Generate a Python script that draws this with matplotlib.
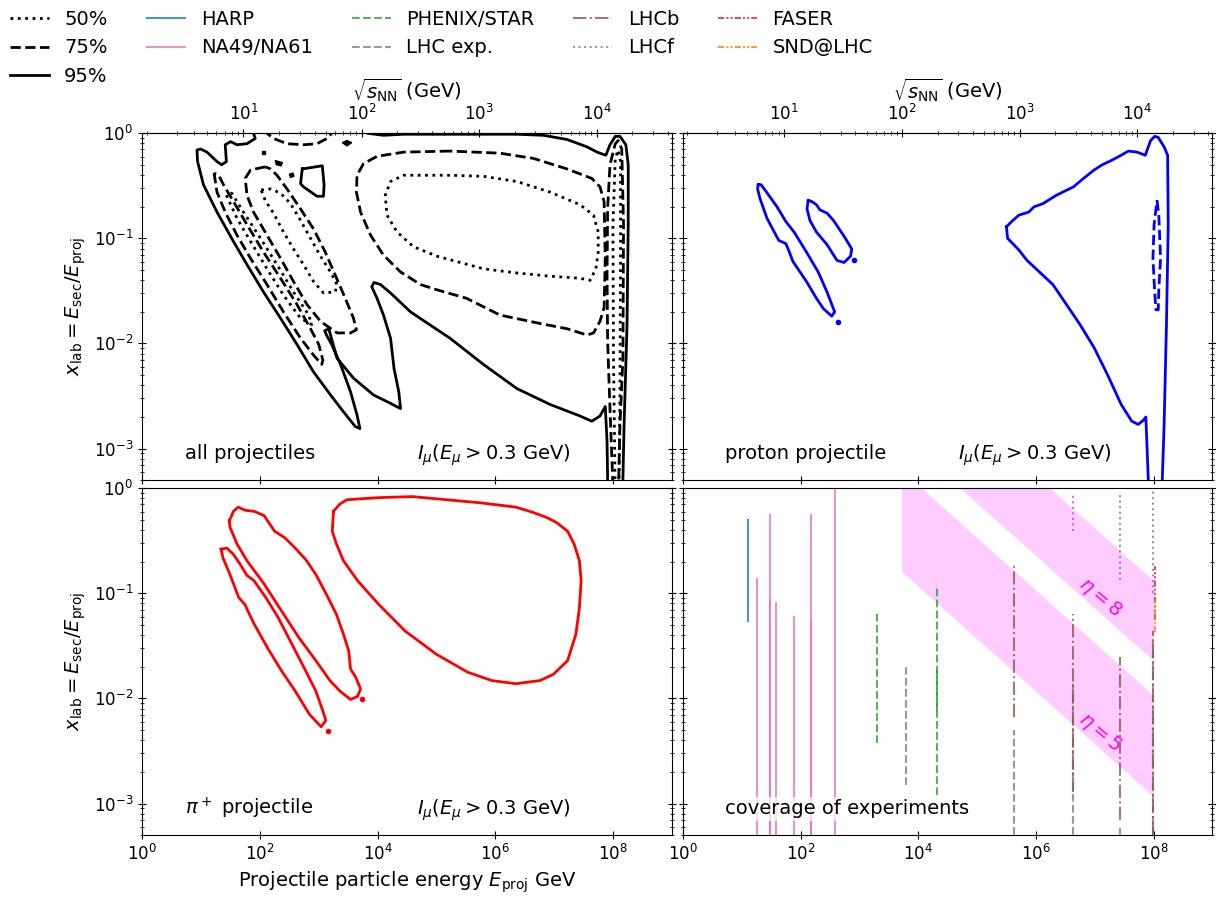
import numpy as np
import matplotlib
matplotlib.use("Agg")
import matplotlib.pyplot as plt
from matplotlib.lines import Line2D
from matplotlib.ticker import FixedLocator, LogLocator, NullLocator, NullFormatter

plt.rcParams['font.size'] = 14
plt.rcParams['xtick.labelsize'] = 12
plt.rcParams['ytick.labelsize'] = 12

M_P = 0.938  # proton mass for the sqrt(s) axis

# ---- contour outlines, points are (log10 E_proj, log10 x_lab) ----
# all projectiles (black)
all_95 = [(1.95, 0.05), (1.89, 0.0), (1.92, -0.05), (1.78, -0.10), (1.61, -0.11), (1.50, -0.08),
          (1.41, -0.11), (1.43, -0.27), (1.35, -0.30), (1.27, -0.27), (1.10, -0.18), (0.99, -0.15),
          (0.93, -0.16), (0.94, -0.27), (1.04, -0.49), (1.27, -0.75), (1.55, -1.03), (1.78, -1.25),
          (2.06, -1.51), (2.35, -1.76), (2.63, -2.01), (2.91, -2.27), (3.20, -2.49), (3.42, -2.65),
          (3.62, -2.79), (3.70, -2.81), (3.65, -2.68), (3.54, -2.46), (3.37, -2.20), (3.22, -2.01),
          (3.14, -1.93), (3.10, -1.88), (3.17, -1.86), (3.31, -2.14), (3.59, -2.33), (3.93, -2.49),
          (4.22, -2.57), (4.39, -2.62), (4.36, -2.46), (4.28, -2.24), (4.22, -1.95), (4.10, -1.73),
          (3.99, -1.57), (3.90, -1.46), (3.94, -1.42), (4.05, -1.44), (4.22, -1.52), (4.56, -1.70),
          (4.72, -1.76), (5.23, -1.95), (5.80, -2.20), (6.37, -2.43), (6.93, -2.58), (7.44, -2.69),
          (7.64, -2.74), (7.78, -2.69), (7.87, -2.60), (7.90, -2.93), (7.91, -3.28), (7.91, -3.5),
          (8.17, -3.5), (8.17, -3.28), (8.19, -2.77), (8.24, -1.82), (8.26, -0.87), (8.26, -0.30),
          (8.22, -0.11), (8.12, -0.03), (8.04, -0.03), (7.95, -0.11), (7.88, -0.21), (7.73, -0.18),
          (7.56, -0.13), (7.22, -0.06), (6.82, -0.02), (6.37, -0.01), (4.44, -0.01), (4.10, -0.02),
          (3.82, 0.0), (3.75, 0.05), (1.95, 0.05)]
all_95_tri = [(2.72, -0.34), (3.06, -0.31), (3.09, -0.49), (3.08, -0.60), (2.97, -0.60),
              (2.74, -0.51), (2.69, -0.48)]
all_blobs = [[(3.40, -0.09), (3.48, -0.07), (3.56, -0.09), (3.48, -0.12)],
             [(2.50, -0.39), (2.56, -0.38), (2.58, -0.41), (2.52, -0.42)],
             [(2.26, -0.26), (2.38, -0.28), (2.36, -0.31), (2.28, -0.30)],
             [(2.04, -0.17), (2.08, -0.17), (2.08, -0.20), (2.04, -0.20)]]
all_75_top = [(2.10, 0.05), (2.12, 0.0), (2.23, -0.05), (2.46, -0.10), (2.74, -0.11),
              (2.97, -0.10), (3.14, -0.05), (3.22, 0.0), (3.24, 0.05)]
all_75_big = [(5.23, -0.17), (4.44, -0.18), (3.99, -0.22), (3.76, -0.29), (3.65, -0.40),
              (3.64, -0.56), (3.71, -0.75), (3.88, -0.97), (4.10, -1.16), (4.39, -1.32),
              (4.73, -1.44), (5.01, -1.49), (5.51, -1.57), (6.08, -1.73), (6.76, -1.81),
              (7.22, -1.86), (7.56, -1.92), (7.67, -1.90), (7.78, -1.79), (7.85, -1.66),
              (7.87, -1.19), (7.85, -0.65), (7.78, -0.51), (7.64, -0.43), (7.22, -0.34),
              (6.65, -0.24), (6.08, -0.19)]
all_75_sliver = [(8.01, -3.5), (7.95, -2.62), (7.91, -1.98), (7.90, -1.35), (7.91, -0.72),
                 (7.95, -0.30), (8.04, -0.10), (8.09, -0.07), (8.15, -0.15), (8.18, -0.87),
                 (8.17, -2.14), (8.12, -2.77), (8.09, -3.5)]
all_75_a = [(1.22, -0.38), (1.27, -0.56), (1.41, -0.75), (1.61, -0.97), (1.84, -1.19),
            (2.12, -1.44), (2.40, -1.70), (2.69, -1.95), (2.91, -2.11), (3.05, -2.20),
            (3.07, -2.16), (3.00, -2.01), (2.86, -1.86), (2.63, -1.63), (2.35, -1.38),
            (2.06, -1.13), (1.78, -0.87), (1.55, -0.65), (1.38, -0.49), (1.30, -0.40)]
all_75_b = [(2.09, -0.32), (1.84, -0.35), (1.75, -0.43), (1.78, -0.59), (1.89, -0.75),
            (2.12, -0.97), (2.35, -1.19), (2.57, -1.41), (2.80, -1.63), (3.03, -1.79),
            (3.31, -1.90), (3.54, -1.90), (3.64, -1.87), (3.59, -1.76), (3.45, -1.57),
            (3.28, -1.35), (3.11, -1.13), (2.91, -0.91), (2.69, -0.72), (2.46, -0.53),
            (2.29, -0.40), (2.18, -0.34)]
all_50_a = [(1.43, -0.59), (1.61, -0.81), (1.84, -1.03), (2.12, -1.29), (2.40, -1.54),
            (2.69, -1.76), (2.88, -1.82), (2.83, -1.73), (2.57, -1.51), (2.29, -1.25),
            (2.01, -1.00), (1.72, -0.75), (1.52, -0.57)]
all_50_b = [(2.02, -0.54), (2.18, -0.53), (2.35, -0.57), (2.52, -0.67), (2.69, -0.83),
            (2.86, -1.00), (3.03, -1.17), (3.20, -1.32), (3.31, -1.44), (3.28, -1.51),
            (3.08, -1.52), (2.91, -1.41), (2.74, -1.25), (2.57, -1.10), (2.40, -0.94),
            (2.23, -0.76), (2.09, -0.64)]
all_50_big = [(5.23, -0.40), (4.44, -0.40), (4.22, -0.46), (4.13, -0.59), (4.16, -0.78),
              (4.33, -0.94), (4.61, -1.08), (5.01, -1.17), (5.80, -1.29), (6.37, -1.33),
              (6.93, -1.36), (7.44, -1.38), (7.61, -1.40), (7.71, -1.29), (7.75, -1.13),
              (7.75, -0.94), (7.67, -0.78), (7.44, -0.68), (6.93, -0.56), (6.37, -0.46),
              (5.80, -0.41)]
all_50_sliver = [(8.04, -3.5), (8.01, -2.14), (8.00, -0.87), (8.04, -0.24), (8.09, -0.16),
                 (8.13, -0.27), (8.13, -1.19), (8.12, -2.46), (8.10, -3.5)]

# proton projectile (blue)
p_95_a = [(1.28, -0.49), (1.33, -0.49), (1.46, -0.59), (1.60, -0.70), (1.75, -0.84), (1.89, -0.94),
          (2.10, -1.13), (2.30, -1.32), (2.45, -1.51), (2.58, -1.70), (2.53, -1.74), (2.39, -1.67),
          (2.27, -1.57), (2.10, -1.41), (1.87, -1.22), (1.81, -1.13), (1.75, -1.05), (1.63, -1.02),
          (1.43, -0.81), (1.31, -0.62), (1.27, -0.53)]
p_95_b = [(2.13, -0.64), (2.19, -0.65), (2.27, -0.68), (2.33, -0.73), (2.45, -0.76), (2.56, -0.83),
          (2.74, -0.98), (2.87, -1.10), (2.85, -1.17), (2.74, -1.23), (2.62, -1.21), (2.45, -1.06),
          (2.27, -0.94), (2.16, -0.83), (2.11, -0.72)]
p_95_c = [(5.50, -0.89), (5.52, -1.00), (5.71, -1.11), (5.85, -1.21), (6.06, -1.32), (6.29, -1.44),
          (6.52, -1.63), (6.75, -1.82), (6.99, -2.04), (7.22, -2.30), (7.45, -2.58), (7.63, -2.74),
          (7.74, -2.77), (7.83, -2.73), (7.87, -2.70), (7.91, -3.28), (7.91, -3.5), (8.15, -3.5),
          (8.15, -3.28), (8.18, -2.77), (8.22, -1.82), (8.25, -0.87), (8.24, -0.21), (8.18, -0.13),
          (8.08, -0.04), (8.02, -0.03), (7.95, -0.07), (7.86, -0.21), (7.72, -0.18), (7.57, -0.17),
          (7.45, -0.21), (7.28, -0.26), (7.13, -0.30), (6.99, -0.35), (6.81, -0.43), (6.64, -0.51),
          (6.35, -0.59), (6.12, -0.67), (5.97, -0.70), (5.88, -0.75), (5.71, -0.78), (5.59, -0.84)]
p_75 = [(8.06, -0.64), (8.09, -0.78), (8.12, -1.19), (8.09, -1.48), (8.08, -1.68), (8.04, -1.68),
        (8.02, -1.51), (7.99, -1.19), (8.01, -0.87), (8.05, -0.68)]
p_dots = [(2.63, -1.80), (2.91, -1.21)]

# pi+ projectile (red)
pi_a = [(1.34, -0.58), (1.44, -0.57), (1.55, -0.63), (1.66, -0.72), (1.78, -0.83), (1.90, -0.88),
        (2.10, -1.04), (2.31, -1.23), (2.54, -1.48), (2.78, -1.74), (2.95, -1.93), (3.07, -2.12),
        (3.12, -2.21), (3.04, -2.27), (2.84, -2.15), (2.60, -1.93), (2.37, -1.74), (2.13, -1.52),
        (1.90, -1.29), (1.78, -1.15), (1.75, -1.11), (1.64, -1.04), (1.49, -0.82), (1.37, -0.66)]
pi_b = [(1.48, -0.31), (1.55, -0.22), (1.63, -0.18), (1.75, -0.21), (1.90, -0.22), (2.07, -0.26),
        (2.25, -0.41), (2.42, -0.47), (2.60, -0.57), (2.78, -0.68), (2.95, -0.82), (3.13, -1.01),
        (3.30, -1.20), (3.42, -1.39), (3.51, -1.55), (3.54, -1.72), (3.63, -1.80), (3.71, -1.91),
        (3.66, -1.98), (3.54, -2.01), (3.36, -1.93), (3.19, -1.83), (2.95, -1.64), (2.66, -1.42),
        (2.37, -1.17), (2.07, -0.91), (1.78, -0.69), (1.61, -0.53), (1.49, -0.37)]
pi_c = [(3.25, -0.22), (3.36, -0.15), (3.48, -0.11), (4.01, -0.09), (4.59, -0.08), (5.18, -0.11),
        (5.76, -0.14), (6.35, -0.18), (6.64, -0.23), (6.88, -0.28), (7.05, -0.33), (7.23, -0.41),
        (7.34, -0.53), (7.43, -0.69), (7.46, -0.88), (7.43, -1.14), (7.37, -1.39), (7.23, -1.64),
        (6.99, -1.77), (6.76, -1.83), (6.35, -1.86), (5.94, -1.83), (5.53, -1.75), (5.00, -1.58),
        (4.47, -1.36), (4.01, -1.10), (3.66, -0.88), (3.42, -0.69), (3.30, -0.53), (3.23, -0.41)]
pi_dots = [(3.16, -2.31), (3.74, -2.01)]

# ---- experiment coverage: beam energy (GeV), x_lab range ----
harp_E = [12.9]
harp_lo = [0.055]
harp_hi = [0.50]
na61_E = [18, 30, 30, 38, 76, 151, 151, 380]
na61_lo = [1e-4, 1e-4, 1e-4, 1e-4, 1e-4, 1e-4, 1e-4, 1e-4]
na61_hi = [0.136, 0.56, 0.087, 0.081, 0.059, 0.56, 0.052, 1.0]
phenix_E = [2000, 21000, 21000]
phenix_lo = [0.0038, 0.0012, 0.0076]
phenix_hi = [0.063, 0.12, 0.0195]
lhc_E = [6300, 4.3e5, 4.2e6, 2.7e7, 9.8e7]
lhc_lo = [0.0015, 1e-4, 1e-4, 1e-4, 1e-4]
lhc_hi = [0.020, 0.005, 0.015, 5.9e-4, 0.035]
lhcb_E = [4.3e5, 4.2e6, 2.7e7, 9.8e7]
lhcb_lo = [0.0066, 0.0013, 6.9e-4, 1e-4]
lhcb_hi = [0.19, 0.063, 0.025, 0.044]
lhcf_E = [4.2e6, 2.7e7, 9.8e7]
lhcf_lo = [0.39, 0.135, 0.10]
lhcf_hi = [0.875, 0.875, 0.94]
faser_E = [1.05e8]
faser_lo = [0.056]
faser_hi = [0.18]
snd_E = [1.05e8]
snd_lo = [0.043]
snd_hi = [0.087]

# pseudorapidity bands
band_E = [5.2e3, 1e8]
eta5_lo = [0.162, 0.00117]
eta5_hi = [1.48, 0.0107]
eta8_lo = [3.16, 0.0229]
eta8_hi = [18.2, 0.132]

DASHDOTDOT = (0, (3, 1, 1, 1, 1, 1))


def to_sqrts(E):
    return np.sqrt(2 * M_P ** 2 + 2 * M_P * np.asarray(E, dtype=float))


def from_sqrts(s):
    s = np.asarray(s, dtype=float)
    return np.clip((s ** 2 - 2 * M_P ** 2) / (2 * M_P), 1e-30, None)


def draw(ax, pts, closed=True, **kw):
    a = np.array(pts)
    if closed:
        a = np.vstack([a, a[:1]])
    ax.plot(10 ** a[:, 0], 10 ** a[:, 1], **kw)


def vsegs(ax, E, lo, hi, **kw):
    for e, l, h in zip(E, lo, hi):
        ax.plot([e, e], [l, h], alpha=0.8, lw=1.5, **kw)


fig, axes = plt.subplots(2, 2, figsize=(12.16, 9.0), dpi=100, sharex=True, sharey=True)
fig.subplots_adjust(left=0.117, right=0.997, top=0.852, bottom=0.072,
                    wspace=0.021, hspace=0.023)

for ax in axes.flat:
    ax.set_xscale('log')
    ax.set_yscale('log')
    ax.set_xlim(1, 1e9)
    ax.set_ylim(5e-4, 1)
    ax.xaxis.set_major_locator(FixedLocator([1e0, 1e2, 1e4, 1e6, 1e8]))
    ax.xaxis.set_minor_locator(NullLocator())
    ax.yaxis.set_major_locator(LogLocator(base=10, numticks=10))
    ax.yaxis.set_minor_locator(LogLocator(base=10, subs=np.arange(2, 10), numticks=10))
    ax.yaxis.set_minor_formatter(NullFormatter())
    ax.tick_params(which='both', direction='inout', left=True, right=True)
    ax.tick_params(which='major', length=6)
    ax.tick_params(which='minor', length=3.5)

for ax in axes[0]:
    sec = ax.secondary_xaxis('top', functions=(to_sqrts, from_sqrts))
    sec.set_xlabel(r'$\sqrt{s_\mathrm{NN}}$ (GeV)')
    sec.tick_params(which='both', direction='inout')
    sec.tick_params(which='major', length=6)
    sec.tick_params(which='minor', length=3.5)

lw = 2
# all projectiles
ax = axes[0, 0]
draw(ax, all_95, closed=False, color='k', lw=lw)
draw(ax, all_95_tri, color='k', lw=lw)
for b in all_blobs:
    a = np.array(b)
    ax.fill(10 ** a[:, 0], 10 ** a[:, 1], color='k', lw=1)
draw(ax, all_75_top, closed=False, color='k', lw=lw, ls='--')
draw(ax, all_75_big, color='k', lw=lw, ls='--')
draw(ax, all_75_sliver, closed=False, color='k', lw=lw, ls='--')
draw(ax, all_75_a, color='k', lw=lw, ls='--')
draw(ax, all_75_b, color='k', lw=lw, ls='--')
draw(ax, all_50_a, color='k', lw=lw, ls=':')
draw(ax, all_50_b, color='k', lw=lw, ls=':')
draw(ax, all_50_big, color='k', lw=lw, ls=':')
draw(ax, all_50_sliver, closed=False, color='k', lw=lw, ls=':')

# proton
ax = axes[0, 1]
draw(ax, p_95_a, color='blue', lw=lw)
draw(ax, p_95_b, color='blue', lw=lw)
draw(ax, p_95_c, color='blue', lw=lw)
draw(ax, p_75, color='blue', lw=lw, ls='--')
a = np.array(p_dots)
ax.plot(10 ** a[:, 0], 10 ** a[:, 1], 'o', color='blue', ms=3)

# pion
ax = axes[1, 0]
draw(ax, pi_a, color='red', lw=lw)
draw(ax, pi_b, color='red', lw=lw)
draw(ax, pi_c, color='red', lw=lw)
a = np.array(pi_dots)
ax.plot(10 ** a[:, 0], 10 ** a[:, 1], 'o', color='red', ms=3)

# coverage
ax = axes[1, 1]
ax.fill_between(band_E, eta5_lo, eta5_hi, color='magenta', alpha=0.2, lw=0, zorder=1)
ax.fill_between(band_E, eta8_lo, eta8_hi, color='magenta', alpha=0.2, lw=0, zorder=1)
vsegs(ax, harp_E, harp_lo, harp_hi, color='C0', ls='-')
vsegs(ax, na61_E, na61_lo, na61_hi, color='C6', ls='-')
vsegs(ax, phenix_E, phenix_lo, phenix_hi, color='C2', ls='--')
vsegs(ax, lhc_E, lhc_lo, lhc_hi, color='C7', ls='--')
vsegs(ax, lhcb_E, lhcb_lo, lhcb_hi, color='C5', ls='-.')
vsegs(ax, lhcf_E, lhcf_lo, lhcf_hi, color='C4', ls=':')
vsegs(ax, faser_E, faser_lo, faser_hi, color='C3', ls=DASHDOTDOT)
vsegs(ax, snd_E, snd_lo, snd_hi, color='C1', ls=DASHDOTDOT)
ax.text(10 ** 7.09, 10 ** -1.04, r'$\eta = 8$', color='magenta', rotation=-40,
        ha='center', va='center')
ax.text(10 ** 7.08, 10 ** -2.32, r'$\eta = 5$', color='magenta', rotation=-40,
        ha='center', va='center')

# panel captions
names = ['all projectiles', 'proton projectile', r'$\pi^+$ projectile']
for ax, name in zip([axes[0, 0], axes[0, 1], axes[1, 0]], names):
    ax.text(0.08, 0.06, name, transform=ax.transAxes, va='baseline')
    ax.text(0.81, 0.06, r'$I_\mu(E_\mu > 0.3$ GeV$)$', transform=ax.transAxes,
            ha='right', va='baseline')
axes[1, 1].text(0.08, 0.06, 'coverage of experiments', transform=axes[1, 1].transAxes,
                va='baseline', zorder=5,
                bbox=dict(facecolor='white', edgecolor='none', alpha=0.7, pad=2))

for ax in axes[:, 0]:
    ax.set_ylabel(r'$x_\mathrm{lab} = E_\mathrm{sec}/E_\mathrm{proj}$')
axes[1, 0].set_xlabel(r'Projectile particle energy $E_\mathrm{proj}$ GeV')

handles = [
    Line2D([], [], color='k', lw=lw, ls=':', label='50%'),
    Line2D([], [], color='k', lw=lw, ls='--', label='75%'),
    Line2D([], [], color='k', lw=lw, ls='-', label='95%'),
    Line2D([], [], color='C0', alpha=0.8, lw=1.5, ls='-', label='HARP'),
    Line2D([], [], color='C6', alpha=0.8, lw=1.5, ls='-', label='NA49/NA61'),
    Line2D([], [], color='C2', alpha=0.8, lw=1.5, ls='--', label='PHENIX/STAR'),
    Line2D([], [], color='C7', alpha=0.8, lw=1.5, ls='--', label='LHC exp.'),
    Line2D([], [], color='C5', alpha=0.8, lw=1.5, ls='-.', label='LHCb'),
    Line2D([], [], color='C4', alpha=0.8, lw=1.5, ls=':', label='LHCf'),
    Line2D([], [], color='C3', alpha=0.8, lw=1.5, ls=DASHDOTDOT, label='FASER'),
    Line2D([], [], color='C1', alpha=0.8, lw=1.5, ls=DASHDOTDOT, label='SND@LHC'),
]
fig.legend(handles=handles, loc='upper left', bbox_to_anchor=(0, 1), ncol=5,
           frameon=False, borderaxespad=0.1, labelspacing=0.5)

fig.savefig('out.png', dpi=100)
